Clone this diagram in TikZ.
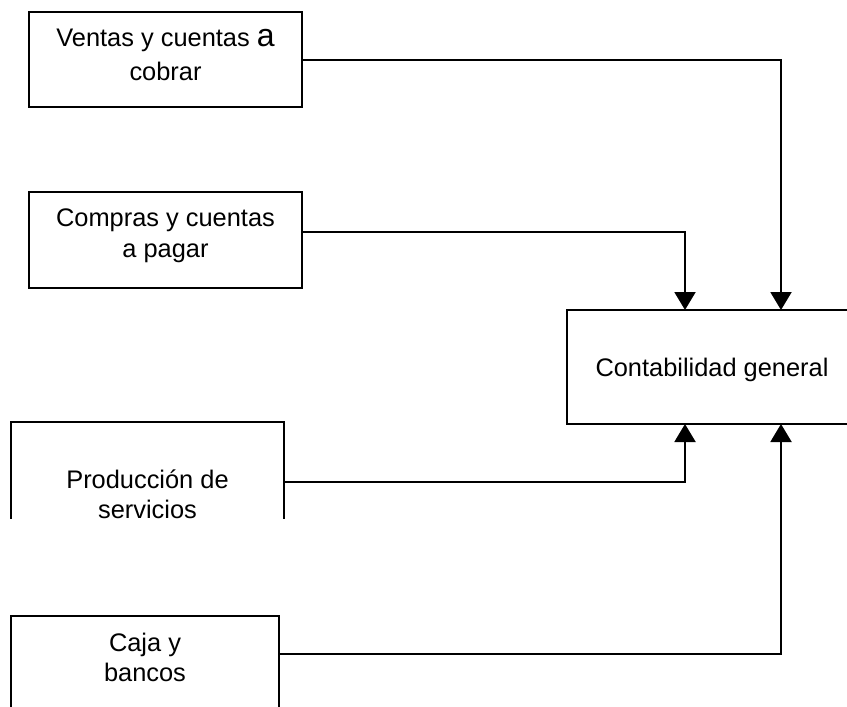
\documentclass[tikz,border=0pt]{standalone}
\usepackage{fontspec}
\setmainfont{Liberation Sans}
\usetikzlibrary{arrows.meta,positioning}

\begin{document}
\begin{tikzpicture}[x=0.5pt,y=-0.5pt,
    bloque/.style={draw,line width=1pt,anchor=north west,inner sep=0pt,outer sep=0pt},
    texto/.style={align=center,inner sep=0pt,outer sep=0pt,anchor=north,font=\fontsize{12.7}{15}\selectfont},
    flecha/.style={line width=1pt,-{Triangle[width=10.5pt,length=9pt]}}]
    \useasboundingbox (0,0) rectangle (847,707);

    %% cajas de la izquierda
    \node[bloque,minimum width=136.5pt,minimum height=47.5pt] (ventas) at (29,12) {};
    \node[texto,below=8.75pt of ventas.north] (ventasT) {Ventas y cuentas {\fontsize{16}{15}\selectfont a}\\[2pt]cobrar};

    \node[bloque,minimum width=136.5pt,minimum height=48pt] (compras) at (29,192) {};
    \node[texto,below=8.25pt of compras.north] (comprasT) {Compras y cuentas\\[0.5pt]a pagar};

    \begin{scope}
    \clip (0,0) rectangle (847,518);
    \node[bloque,minimum width=136.5pt,minimum height=60pt] (produccion) at (11,422) {};
    \node[texto,below=23.75pt of produccion.north] (produccionT) {Producción de\\servicios};
    \end{scope}

    \node[bloque,minimum width=134pt,minimum height=55pt] (caja) at (11,616) {};
    \node[texto,below=8.75pt of caja.north] (cajaT) {Caja y\\bancos};

    %% caja central
    \node[bloque,minimum width=145pt,minimum height=57pt] (conta) at (567,310) {};
    \node[texto,below=24.25pt of conta.north] (contaT) {Contabilidad general};

    \coordinate (arribaA) at ([xshift=-13.5pt]conta.north);
    \coordinate (arribaB) at ([xshift=34.5pt]conta.north);
    \coordinate (abajoA) at ([xshift=-13.5pt]conta.south);
    \coordinate (abajoB) at ([xshift=34.5pt]conta.south);

    %% flechas
    \draw[flecha] (ventas.east) -| (arribaB);
    \draw[flecha] ([yshift=4pt]compras.east) -| (arribaA);
    \draw[flecha] (produccion.east) -| (abajoA);
    \draw[flecha] ([yshift=8.5pt]caja.east) -| (abajoB);
\end{tikzpicture}
\end{document}
